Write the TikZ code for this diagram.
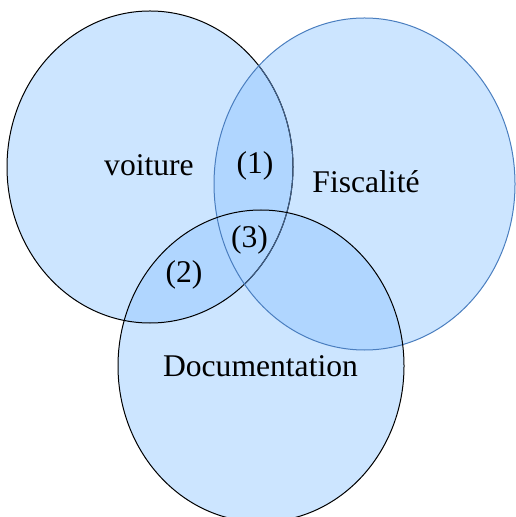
\documentclass[tikz,border=0pt]{standalone}
\usepackage{fontspec}
\setmainfont{Liberation Serif}
\definecolor{setfill}{HTML}{CCE5FF}
\definecolor{setboth}{HTML}{B0D6FF}
\definecolor{setline}{HTML}{4A7EBF}
\definecolor{setgrey}{HTML}{3F5F88}

\def\voiture{(150,167) ellipse [x radius=143,y radius=156]}
\def\fiscal{(364.5,184) ellipse [x radius=150.5,y radius=166]}
\def\docum{(261,366) ellipse [x radius=143,y radius=156]}

\begin{document}
\begin{tikzpicture}[x=0.5pt,y=-0.5pt,
    lbl/.style={anchor=base,font=\fontsize{15.8}{19}\selectfont},
    rim/.style={line width=0.5pt}]
  \useasboundingbox (0,0) rectangle (515,517);

  % fills
  \fill[setfill] \voiture;
  \fill[setfill] \fiscal;
  \fill[setfill] \docum;
  \begin{scope}
    \clip \voiture;
    \fill[setboth] \fiscal;
    \fill[setboth] \docum;
  \end{scope}
  \begin{scope}
    \clip \fiscal;
    \fill[setboth] \docum;
  \end{scope}

  % outlines
  \draw[rim,black] \voiture;
  \begin{scope}
    \clip \fiscal;
    \draw[rim,setgrey] \voiture;
  \end{scope}
  \draw[rim,setline] \fiscal;
  \draw[rim,black] \docum;

  \node[lbl] (voit) at (149,176) {voiture};
  \node[lbl] (fisc) at (366,193) {Fiscalité};
  \node[lbl] (docu) at (260.5,376) {Documentation};
  \node[lbl] (one) at (255,174) {(1)};
  \node[lbl] (two) at (184,283) {(2)};
  \node[lbl] (three) at (249.5,248) {(3)};
\end{tikzpicture}
\end{document}
